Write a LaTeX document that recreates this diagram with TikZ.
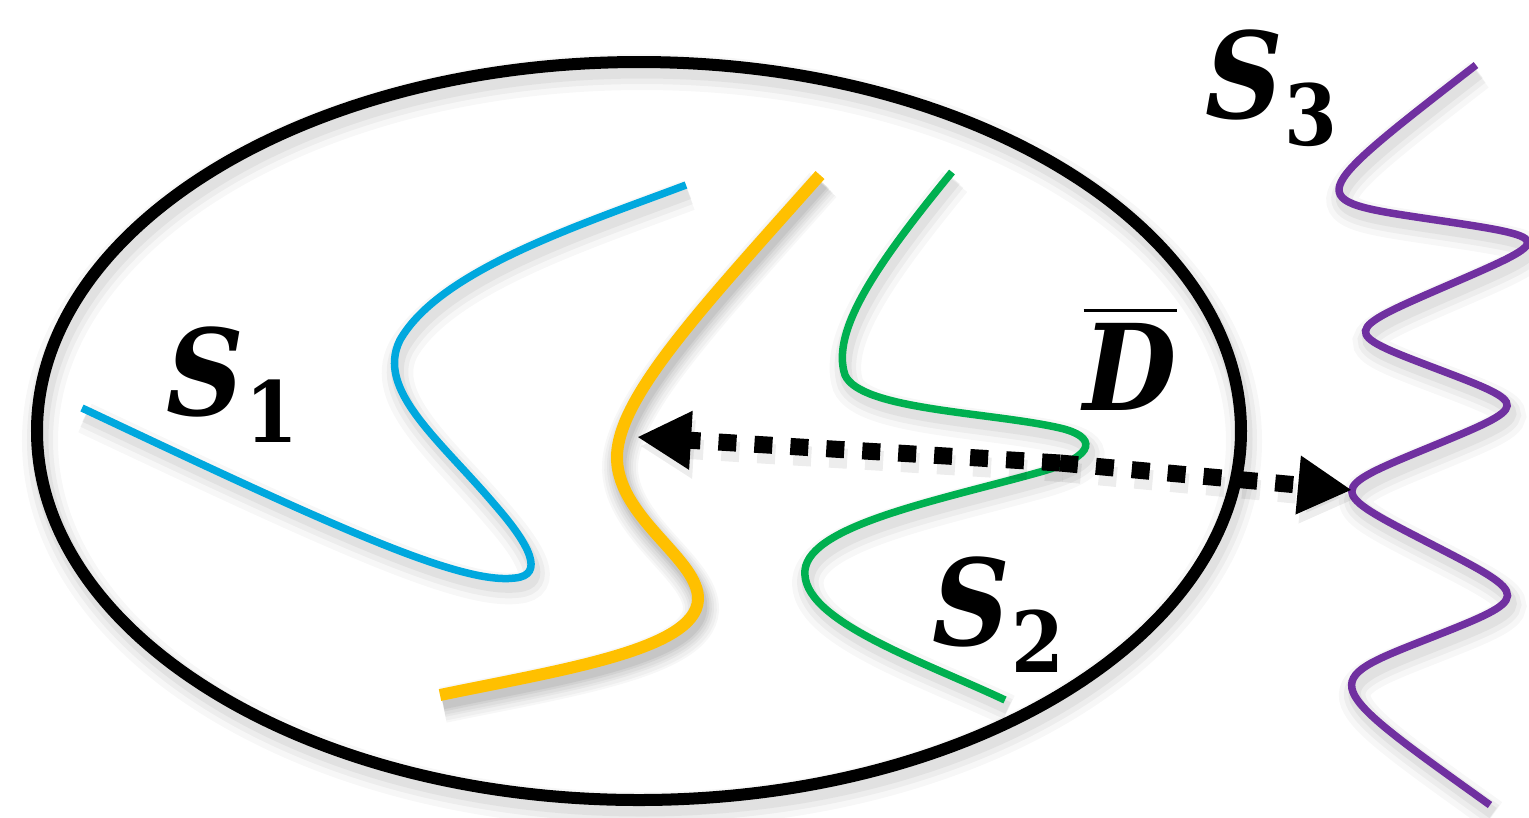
\documentclass[tikz,border=0pt]{standalone}
\usepackage{amsmath}
\usepackage{fontspec}
\newfontfamily\lblfont[FakeStretch=0.9]{DejaVu Serif}
\usetikzlibrary{arrows.meta}
\definecolor{sblue}{HTML}{00A8DE}
\definecolor{syellow}{HTML}{FFC000}
\definecolor{sgreen}{HTML}{00B050}
\definecolor{spurple}{HTML}{7030A0}
% set name with a lowered bold index
\newcommand{\setname}[2]{\textit{#1}\hspace{0.1mm}\raisebox{-2.7mm}{\fontsize{24}{30}\selectfont #2}}

\begin{document}
\begin{tikzpicture}[x=0.01cm, y=-0.01cm,
  soft/.style={preaction={draw=black, opacity=.03, line width=#1+2.4mm, transform canvas={shift={(3,10)}}},
    preaction={draw=black, opacity=.04, line width=#1+1.4mm, transform canvas={shift={(3,9)}}},
    preaction={draw=black, opacity=.05, line width=#1+0.5mm, transform canvas={shift={(3,8)}}}},
  curve/.style={line width=0.75mm, soft=0.75mm},
  lbl/.style={inner sep=0pt, anchor=base west, font=\lblfont\bfseries\fontsize{34}{40}\selectfont},
  dist/.style={line width=1.7mm, dash pattern=on 1.8mm off 1.8mm,
    -{Triangle[length=5.4mm,width=5.5mm]},
    preaction={draw=black, opacity=.07, line width=2mm, dash pattern=on 1.8mm off 1.8mm,
      transform canvas={shift={(3,9)}}}}]
\useasboundingbox (0,0) rectangle (1529,817);
%\draw[help lines] (0,0) grid[step=100] (1529,817);
\draw[line width=1.2mm, soft=1.2mm] (639,431) ellipse [x radius=602, y radius=369];
% the three sets inside
\draw[curve, sblue] (82,408) .. controls (330,525) and (460,585) .. (515,578)
  .. controls (545,575) and (530,545) .. (495,505)
  .. controls (440,440) and (375,390) .. (400,340)
  .. controls (440,270) and (580,225) .. (686,185);
\draw[curve, syellow, line width=1.2mm, soft=1.2mm] (820,175) .. controls (700,310) and (615,400) .. (617,460)
  .. controls (620,520) and (700,560) .. (698,600)
  .. controls (695,650) and (560,670) .. (440,695);
\draw[curve, sgreen] (952,172) .. controls (880,260) and (830,330) .. (845,375)
  .. controls (860,410) and (990,412) .. (1060,428)
  .. controls (1095,436) and (1100,455) .. (1040,472)
  .. controls (940,500) and (810,525) .. (805,570)
  .. controls (800,620) and (920,660) .. (1005,700);
% the set outside
\draw[curve, spurple] (1476,65) .. controls (1302,200) .. (1429.5,219)
  .. controls (1557,238) .. (1448.5,285)
  .. controls (1340,332) .. (1436,368.5)
  .. controls (1532,405) .. (1429,447.5)
  .. controls (1326,490) .. (1430,543.5)
  .. controls (1534,597) .. (1426,639.5)
  .. controls (1318,682) .. (1490,805);
\coordinate (mid) at (1060,463);
\coordinate (near) at (637,437);
\coordinate (far) at (1352,490);
\draw[dist] (mid) -- (near);
\draw[dist] (mid) -- (far);
\node[lbl] (s1) at (166,415) {\setname{S}{1}};
\node[lbl] (s2) at (932,645) {\setname{S}{2}};
\node[lbl] (s3) at (1205,118) {\setname{S}{3}};
\node[lbl] (dbar) at (1083,410) {$\overline{\mbox{\textit{D}}}$};
\end{tikzpicture}
\end{document}
